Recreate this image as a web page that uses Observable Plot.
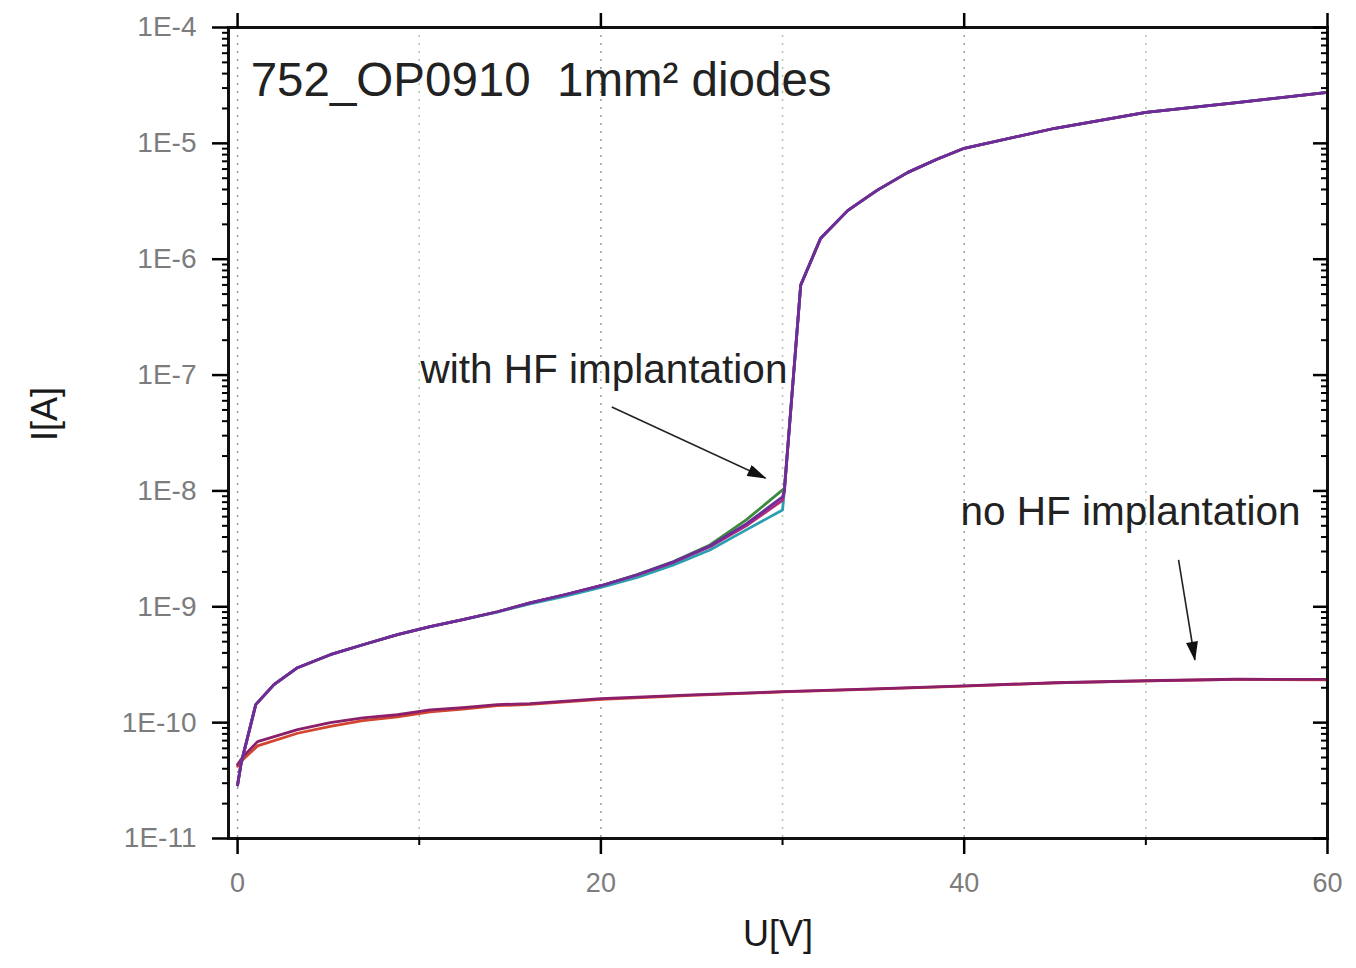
<!DOCTYPE html>
<html>
<head>
<meta charset="utf-8">
<script src="https://cdn.jsdelivr.net/npm/d3@7"></script>
<script src="https://cdn.jsdelivr.net/npm/@observablehq/plot@0.6"></script>
<style>
  html, body { margin: 0; padding: 0; background: #fff; }
  #chart svg { display: block; }
</style>
</head>
<body>
<div id="chart"></div>
<script>
// ---------- data ----------
const voltsHF = [0, 0.2, 1.0, 2.0, 3.3, 5.1, 6.9, 8.8, 10.6, 12.4, 14.3, 16.1, 18, 20, 22, 24, 26, 28, 30, 30.1, 31.0, 32.1, 33.6, 35.2, 36.9, 38.5, 40, 45, 50, 55, 60];
const hfPurple = [2.9e-11, 4.5e-11, 1.43e-10, 2.13e-10, 2.98e-10, 3.86e-10, 4.7e-10, 5.74e-10, 6.73e-10, 7.73e-10, 9.06e-10, 1.08e-9, 1.27e-9, 1.52e-9, 1.89e-9, 2.44e-9, 3.35e-9, 5.2e-9, 8.87e-9, 1.0e-8, 5.97e-7, 1.52e-6, 2.64e-6, 3.93e-6, 5.62e-6, 7.3e-6, 9.06e-6, 1.35e-5, 1.85e-5, 2.25e-5, 2.75e-5];
const hfGreen  = [2.9e-11, 4.5e-11, 1.43e-10, 2.13e-10, 2.98e-10, 3.86e-10, 4.7e-10, 5.74e-10, 6.73e-10, 7.73e-10, 9.06e-10, 1.08e-9, 1.27e-9, 1.52e-9, 1.9e-9, 2.46e-9, 3.42e-9, 5.62e-9, 1.02e-8, 1.05e-8, 5.97e-7, 1.52e-6, 2.64e-6, 3.93e-6, 5.62e-6, 7.3e-6, 9.06e-6, 1.35e-5, 1.85e-5, 2.25e-5, 2.75e-5];
const hfCyan   = [2.9e-11, 4.5e-11, 1.43e-10, 2.13e-10, 2.98e-10, 3.86e-10, 4.7e-10, 5.74e-10, 6.73e-10, 7.73e-10, 9.0e-10, 1.06e-9, 1.23e-9, 1.47e-9, 1.79e-9, 2.3e-9, 3.09e-9, 4.61e-9, 6.85e-9, 1.0e-8, 5.97e-7, 1.52e-6, 2.64e-6, 3.93e-6, 5.62e-6, 7.3e-6, 9.06e-6, 1.35e-5, 1.85e-5, 2.25e-5, 2.75e-5];
const hfMagenta= [2.9e-11, 4.5e-11, 1.43e-10, 2.13e-10, 2.98e-10, 3.86e-10, 4.7e-10, 5.74e-10, 6.73e-10, 7.73e-10, 9.06e-10, 1.08e-9, 1.27e-9, 1.52e-9, 1.88e-9, 2.42e-9, 3.3e-9, 5.0e-9, 8.3e-9, 1.0e-8, 5.97e-7, 1.52e-6, 2.64e-6, 3.93e-6, 5.62e-6, 7.3e-6, 9.06e-6, 1.35e-5, 1.85e-5, 2.25e-5, 2.75e-5];

const voltsNo = [0, 0.3, 1.1, 3.3, 5.1, 6.9, 8.8, 10.6, 12.4, 14.3, 16.1, 20, 25, 30, 35, 40, 45, 50, 55, 60];
const noMagenta = [4.35e-11, 5.09e-11, 6.86e-11, 8.7e-11, 1.0e-10, 1.10e-10, 1.17e-10, 1.29e-10, 1.35e-10, 1.43e-10, 1.46e-10, 1.61e-10, 1.74e-10, 1.85e-10, 1.96e-10, 2.08e-10, 2.21e-10, 2.30e-10, 2.37e-10, 2.36e-10];
const noRed     = [4.2e-11, 4.8e-11, 6.3e-11, 8.1e-11, 9.3e-11, 1.04e-10, 1.12e-10, 1.24e-10, 1.31e-10, 1.40e-10, 1.44e-10, 1.59e-10, 1.72e-10, 1.84e-10, 1.95e-10, 2.07e-10, 2.20e-10, 2.29e-10, 2.36e-10, 2.34e-10];

const yDecades = [1e-11, 1e-10, 1e-9, 1e-8, 1e-7, 1e-6, 1e-5, 1e-4];
const xMajor = [0, 20, 40, 60];
const xMinor = [10, 30, 50];
const gridGray = [0, 20, 40];
const gridGreen = [10, 30, 50];

const titleText = ["752_OP0910\u00a0 1mm\u00b2 diodes"];
const titleX = [0.72], titleY = [3.49e-5];
const noteText = ["with HF implantation", "no HF implantation"];
const noteX = [10.07, 39.8], noteY = [1.10e-7, 6.59e-9];
const arrowX1 = [20.6, 51.8], arrowY1 = [5.3e-8, 2.54e-9];
const arrowX2 = [29.06, 52.7], arrowY2 = [1.29e-8, 3.49e-10];

// ---------- helpers ----------
const series = (xs, ys, name) => xs.map((v, i) => ({U: v, I: ys[i], s: name}));
const yMinor = [];
for (const d of yDecades.slice(0, -1)) for (let k = 2; k <= 9; k++) yMinor.push(d * k);
const fmtE = d => "1E" + Math.round(Math.log10(d));

const arrows = arrowX1.map((v, i) => ({x1: v, y1: arrowY1[i], x2: arrowX2[i], y2: arrowY2[i]}));
const notes = noteText.map((t, i) => ({t, x: noteX[i], y: noteY[i]}));
const title = titleText.map((t, i) => ({t, x: titleX[i], y: titleY[i]}));

const lineOpts = (color) => ({x: "U", y: "I", stroke: color, strokeWidth: 2.8, curve: "linear"});

const chart = Plot.plot({
  width: 1356,
  height: 968,
  marginLeft: 228,
  marginRight: 29,
  marginTop: 27,
  marginBottom: 130,
  style: {fontFamily: "'Liberation Sans', Arial, sans-serif", background: "white", overflow: "visible"},
  x: {domain: [-0.5, 60]},
  y: {type: "log", domain: [1e-11, 1e-4]},
  marks: [
    Plot.ruleX(gridGray, {stroke: "#9a9a9a", strokeWidth: 1.5, strokeDasharray: "2,6"}),
    Plot.ruleX(gridGreen, {stroke: "#a9c9a9", strokeWidth: 1.5, strokeDasharray: "2,6"}),

    // no HF implantation
    Plot.line(series(voltsNo, noRed, "red"), lineOpts("#d2452e")),
    Plot.line(series(voltsNo, noMagenta, "mag"), lineOpts("#8c1f6a")),

    // with HF implantation
    Plot.line(series(voltsHF, hfGreen, "green"), lineOpts("#3c8c3c")),
    Plot.line(series(voltsHF, hfCyan, "cyan"), lineOpts("#2a9fb2")),
    Plot.line(series(voltsHF, hfMagenta, "magenta"), lineOpts("#b02a7a")),
    Plot.line(series(voltsHF, hfPurple, "purple"), lineOpts("#6e2c9a")),

    // frame
    Plot.frame({stroke: "#111", strokeWidth: 3}),

    // left axis
    Plot.axisY(yDecades, {anchor: "left", tickSize: 16, strokeWidth: 2.5, tickFormat: () => "", label: null}),
    Plot.axisY(yMinor, {anchor: "left", tickSize: 6, strokeWidth: 2, tickFormat: () => "", label: null}),
    Plot.axisY(yDecades, {anchor: "left", tickSize: 0, tickPadding: 32, tickFormat: fmtE, color: "#7c7c7c", fontSize: 28, label: null}),
    // right axis (inward ticks)
    Plot.axisY(yDecades, {anchor: "right", tickSize: -15, strokeWidth: 2.5, tickFormat: () => "", label: null}),
    Plot.axisY(yMinor, {anchor: "right", tickSize: -7, strokeWidth: 2, tickFormat: () => "", label: null}),

    // bottom axis
    Plot.axisX(xMajor, {anchor: "bottom", tickSize: 16, strokeWidth: 2.5, tickFormat: () => "", label: null}),
    Plot.axisX(xMinor, {anchor: "bottom", tickSize: 7, strokeWidth: 2, tickFormat: () => "", label: null}),
    Plot.axisX(xMajor, {anchor: "bottom", tickSize: 0, tickPadding: 34, tickFormat: d => String(d), color: "#7c7c7c", fontSize: 27, label: null}),
    // top axis
    Plot.axisX(xMajor, {anchor: "top", tickSize: 15, strokeWidth: 2.5, tickFormat: () => "", label: null}),

    // axis titles
    Plot.text(["U[V]"], {frameAnchor: "bottom", dy: 107, fontSize: 36, fill: "#1a1a1a"}),
    Plot.text(["I[A]"], {frameAnchor: "left", dx: -183, dy: 8, rotate: -90, fontSize: 36, fill: "#1a1a1a"}),

    // annotations
    Plot.text(title, {x: "x", y: "y", text: "t", textAnchor: "start", fontSize: 47.5, fill: "#222"}),
    Plot.text(notes, {x: "x", y: "y", text: "t", textAnchor: "start", fontSize: 40.5, fill: "#222"}),
    Plot.link(arrows, {x1: "x1", y1: "y1", x2: "x2", y2: "y2", stroke: "#222", strokeWidth: 1.6})
  ]
});

// filled arrowheads on the annotation links
const svg = d3.select(chart);
svg.append("defs").append("marker")
  .attr("id", "fhead")
  .attr("viewBox", "0 -5 16 10")
  .attr("markerWidth", 20).attr("markerHeight", 12)
  .attr("markerUnits", "userSpaceOnUse")
  .attr("refX", 15).attr("refY", 0)
  .attr("orient", "auto")
  .append("path").attr("d", "M0,-5L16,0L0,5Z").attr("fill", "#111");
svg.selectAll('g[aria-label="link"] path').attr("marker-end", "url(#fhead)");

document.getElementById("chart").append(chart);
</script>
</body>
</html>
